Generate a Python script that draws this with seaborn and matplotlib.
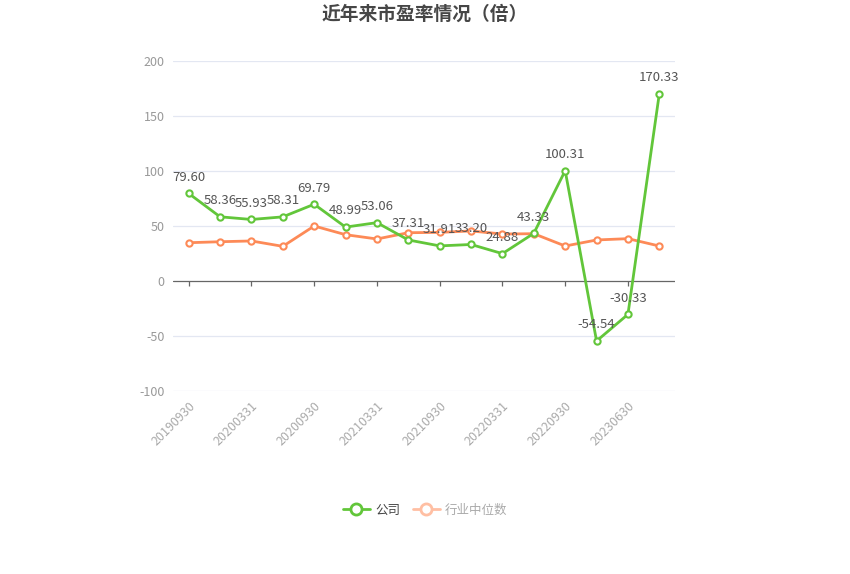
import matplotlib
matplotlib.use("Agg")
import matplotlib.pyplot as plt
from matplotlib.lines import Line2D
import seaborn as sns
import pandas as pd
import numpy as np

dates = ["20190930", "20191231", "20200331", "20200630", "20200930", "20201231",
         "20210331", "20210630", "20210930", "20211231", "20220331", "20220630",
         "20220930", "20230331", "20230630", "20230930"]
company = [79.60, 58.36, 55.93, 58.31, 69.79, 48.99, 53.06, 37.31, 31.91, 33.20,
           24.88, 43.33, 100.31, -54.54, -30.33, 170.33]
industry = [34.8, 35.7, 36.4, 31.5, 50.0, 42.1, 38.2, 43.9, 44.2, 45.5,
            42.7, 43.0, 31.8, 37.3, 38.5, 31.8]
series_names = ["公司", "行业中位数"]
yticks = [-100, -50, 0, 50, 100, 150, 200]

green = "#62c63a"
orange = "#fd8a57"

sns.set_theme(style="white")
plt.rcParams['font.family'] = ['Noto Sans CJK SC', 'DejaVu Sans']

fig = plt.figure(figsize=(8.5, 5.74), dpi=100)
ax = fig.add_axes([173/850, 1-391/574, (675-173)/850, (391-61)/574])

idx = np.arange(len(dates))
df = pd.DataFrame({
    "pos": np.concatenate([idx, idx]),
    "value": company + industry,
    "series": [series_names[0]] * len(dates) + [series_names[1]] * len(dates),
})

sns.lineplot(data=df, x="pos", y="value", hue="series",
             palette={series_names[0]: green, series_names[1]: orange},
             hue_order=[series_names[1], series_names[0]],
             marker="o", markersize=4.5, markerfacecolor="white",
             markeredgewidth=1.5, linewidth=2, legend=False, ax=ax)
for line in ax.get_lines():
    line.set_markeredgecolor(line.get_color())

for i, v in enumerate(company):
    ax.annotate(f"{v:.2f}", (i, v), xytext=(0, 7), textcoords="offset points",
                ha="center", va="bottom", fontsize=9.5, color="#555555")

for s in ["top", "right", "left", "bottom"]:
    ax.spines[s].set_visible(False)

ax.set_xlim(-0.5, len(dates) - 0.5)
ax.set_ylim(-100, 200)
ax.set_yticks(yticks)
ax.set_yticklabels([str(t) for t in yticks], fontsize=9, color="#999999")
ax.set_xticks(idx[::2])
ax.set_xticklabels(dates[::2], rotation=45, ha="right", rotation_mode="anchor",
                   fontsize=9, color="#aaaaaa")
ax.tick_params(axis="x", length=0, pad=6)
ax.tick_params(axis="y", length=0, pad=6)
ax.set_xlabel("")
ax.set_ylabel("")

for y in yticks:
    if y != 0:
        ax.axhline(y, color="#e3e7f2", linewidth=0.9, zorder=0)
# zero axis line with small ticks hanging down
ax.axhline(0, color="#666666", linewidth=0.9, zorder=1)
ax.vlines(idx[::2], -4.5, 0, color="#666666", linewidth=0.9, zorder=1)

fig.text(0.5, 1 - 14/574, "近年来市盈率情况（倍）", ha="center", va="center",
         fontsize=13.5, fontweight="bold", color="#464646")

handles = [
    Line2D([0], [0], color=green, lw=2, marker="o", markersize=8,
           markerfacecolor="white", markeredgecolor=green, markeredgewidth=2),
    Line2D([0], [0], color="#ffbfa3", lw=2, marker="o", markersize=8,
           markerfacecolor="white", markeredgecolor="#ffbfa3", markeredgewidth=2),
]
leg = fig.legend(handles, series_names, loc="center", bbox_to_anchor=(0.5, 1 - 510/574),
                 ncol=2, frameon=False, fontsize=9, handlelength=2.2,
                 columnspacing=1.0, handletextpad=0.4)
leg.get_texts()[0].set_color("#444444")
leg.get_texts()[1].set_color("#aaaaaa")

fig.savefig("out.png", dpi=100)
